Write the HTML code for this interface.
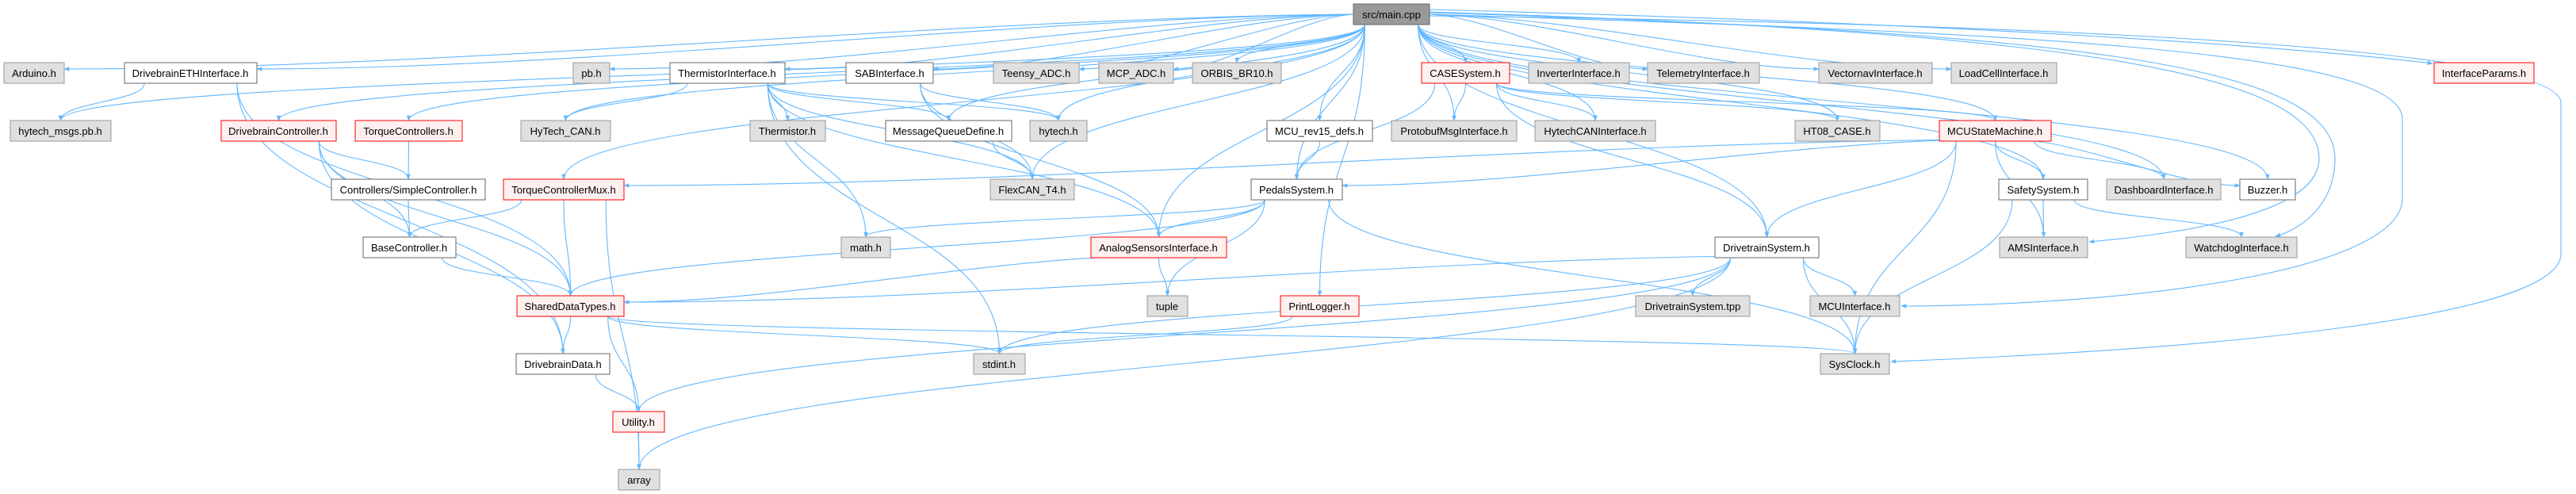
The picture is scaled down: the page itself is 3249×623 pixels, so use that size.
<!DOCTYPE html>
<html><head><meta charset="utf-8"><style>
html,body{margin:0;padding:0;background:#fff;width:3249px;height:623px;overflow:hidden}
svg{display:block}
text{font-family:"Liberation Sans",Arial,sans-serif;font-size:13px;fill:#000}
</style></head><body>
<svg id="g" width="3249" height="623" viewBox="0 0 3249 623" xmlns="http://www.w3.org/2000/svg">
<defs><marker id="a" viewBox="0 0 10 10" refX="9" refY="5" markerWidth="7" markerHeight="7" markerUnits="userSpaceOnUse" orient="auto"><path d="M0,1 L10,5 L0,9 z" fill="#63b8ff"/></marker></defs>
<g id="edges" fill="none" stroke="#63b8ff" stroke-width="1.1"></g>
<g id="nodes">
<rect x="1707" y="5" width="96" height="26" fill="#999" stroke="#666"/><text x="1755" y="23" text-anchor="middle">src/main.cpp</text>
<rect x="5" y="79" width="76" height="26" fill="#e0e0e0" stroke="#999"/><text x="43" y="97" text-anchor="middle">Arduino.h</text>
<rect x="157" y="79" width="167" height="26" fill="#fff" stroke="#666"/><text x="240" y="97" text-anchor="middle">DrivebrainETHInterface.h</text>
<rect x="723" y="79" width="46" height="26" fill="#e0e0e0" stroke="#999"/><text x="746" y="97" text-anchor="middle">pb.h</text>
<rect x="845" y="79" width="145" height="26" fill="#fff" stroke="#666"/><text x="917" y="97" text-anchor="middle">ThermistorInterface.h</text>
<rect x="1067" y="79" width="110" height="26" fill="#fff" stroke="#666"/><text x="1122" y="97" text-anchor="middle">SABInterface.h</text>
<rect x="1253" y="79" width="108" height="26" fill="#e0e0e0" stroke="#999"/><text x="1307" y="97" text-anchor="middle">Teensy_ADC.h</text>
<rect x="1386" y="79" width="94" height="26" fill="#e0e0e0" stroke="#999"/><text x="1433" y="97" text-anchor="middle">MCP_ADC.h</text>
<rect x="1504" y="79" width="112" height="26" fill="#e0e0e0" stroke="#999"/><text x="1560" y="97" text-anchor="middle">ORBIS_BR10.h</text>
<rect x="1793" y="79" width="111" height="26" fill="#fff0f0" stroke="#ff0000"/><text x="1848" y="97" text-anchor="middle">CASESystem.h</text>
<rect x="1928" y="79" width="127" height="26" fill="#e0e0e0" stroke="#999"/><text x="1991" y="97" text-anchor="middle">InverterInterface.h</text>
<rect x="2078" y="79" width="141" height="26" fill="#e0e0e0" stroke="#999"/><text x="2148" y="97" text-anchor="middle">TelemetryInterface.h</text>
<rect x="2294" y="79" width="143" height="26" fill="#e0e0e0" stroke="#999"/><text x="2365" y="97" text-anchor="middle">VectornavInterface.h</text>
<rect x="2461" y="79" width="133" height="26" fill="#e0e0e0" stroke="#999"/><text x="2527" y="97" text-anchor="middle">LoadCellInterface.h</text>
<rect x="3070" y="79" width="126" height="26" fill="#fff0f0" stroke="#ff0000"/><text x="3133" y="97" text-anchor="middle">InterfaceParams.h</text>
<rect x="13" y="152" width="127" height="26" fill="#e0e0e0" stroke="#999"/><text x="76" y="170" text-anchor="middle">hytech_msgs.pb.h</text>
<rect x="279" y="152" width="145" height="26" fill="#fff0f0" stroke="#ff0000"/><text x="351" y="170" text-anchor="middle">DrivebrainController.h</text>
<rect x="448" y="152" width="135" height="26" fill="#fff0f0" stroke="#ff0000"/><text x="515" y="170" text-anchor="middle">TorqueControllers.h</text>
<rect x="657" y="152" width="113" height="26" fill="#e0e0e0" stroke="#999"/><text x="713" y="170" text-anchor="middle">HyTech_CAN.h</text>
<rect x="946" y="152" width="95" height="26" fill="#e0e0e0" stroke="#999"/><text x="993" y="170" text-anchor="middle">Thermistor.h</text>
<rect x="1117" y="152" width="159" height="26" fill="#fff" stroke="#666"/><text x="1196" y="170" text-anchor="middle">MessageQueueDefine.h</text>
<rect x="1299" y="152" width="72" height="26" fill="#e0e0e0" stroke="#999"/><text x="1335" y="170" text-anchor="middle">hytech.h</text>
<rect x="1598" y="152" width="133" height="26" fill="#fff" stroke="#666"/><text x="1664" y="170" text-anchor="middle">MCU_rev15_defs.h</text>
<rect x="1755" y="152" width="158" height="26" fill="#e0e0e0" stroke="#999"/><text x="1834" y="170" text-anchor="middle">ProtobufMsgInterface.h</text>
<rect x="1936" y="152" width="152" height="26" fill="#e0e0e0" stroke="#999"/><text x="2012" y="170" text-anchor="middle">HytechCANInterface.h</text>
<rect x="2264" y="152" width="107" height="26" fill="#e0e0e0" stroke="#999"/><text x="2317" y="170" text-anchor="middle">HT08_CASE.h</text>
<rect x="2446" y="152" width="141" height="26" fill="#fff0f0" stroke="#ff0000"/><text x="2516" y="170" text-anchor="middle">MCUStateMachine.h</text>
<rect x="418" y="226" width="194" height="26" fill="#fff" stroke="#666"/><text x="515" y="244" text-anchor="middle">Controllers/SimpleController.h</text>
<rect x="635" y="226" width="152" height="26" fill="#fff0f0" stroke="#ff0000"/><text x="711" y="244" text-anchor="middle">TorqueControllerMux.h</text>
<rect x="1249" y="226" width="106" height="26" fill="#e0e0e0" stroke="#999"/><text x="1302" y="244" text-anchor="middle">FlexCAN_T4.h</text>
<rect x="1578" y="226" width="115" height="26" fill="#fff" stroke="#666"/><text x="1635" y="244" text-anchor="middle">PedalsSystem.h</text>
<rect x="2521" y="226" width="112" height="26" fill="#fff" stroke="#666"/><text x="2577" y="244" text-anchor="middle">SafetySystem.h</text>
<rect x="2657" y="226" width="144" height="26" fill="#e0e0e0" stroke="#999"/><text x="2729" y="244" text-anchor="middle">DashboardInterface.h</text>
<rect x="2825" y="226" width="70" height="26" fill="#fff" stroke="#666"/><text x="2860" y="244" text-anchor="middle">Buzzer.h</text>
<rect x="458" y="299" width="117" height="26" fill="#fff" stroke="#666"/><text x="516" y="317" text-anchor="middle">BaseController.h</text>
<rect x="1061" y="299" width="62" height="26" fill="#e0e0e0" stroke="#999"/><text x="1092" y="317" text-anchor="middle">math.h</text>
<rect x="1376" y="299" width="171" height="26" fill="#fff0f0" stroke="#ff0000"/><text x="1461" y="317" text-anchor="middle">AnalogSensorsInterface.h</text>
<rect x="2163" y="299" width="131" height="26" fill="#fff" stroke="#666"/><text x="2228" y="317" text-anchor="middle">DrivetrainSystem.h</text>
<rect x="2522" y="299" width="111" height="26" fill="#e0e0e0" stroke="#999"/><text x="2577" y="317" text-anchor="middle">AMSInterface.h</text>
<rect x="2757" y="299" width="140" height="26" fill="#e0e0e0" stroke="#999"/><text x="2827" y="317" text-anchor="middle">WatchdogInterface.h</text>
<rect x="652" y="373" width="135" height="26" fill="#fff0f0" stroke="#ff0000"/><text x="719" y="391" text-anchor="middle">SharedDataTypes.h</text>
<rect x="1447" y="373" width="51" height="26" fill="#e0e0e0" stroke="#999"/><text x="1472" y="391" text-anchor="middle">tuple</text>
<rect x="1615" y="373" width="99" height="26" fill="#fff0f0" stroke="#ff0000"/><text x="1664" y="391" text-anchor="middle">PrintLogger.h</text>
<rect x="2063" y="373" width="144" height="26" fill="#e0e0e0" stroke="#999"/><text x="2135" y="391" text-anchor="middle">DrivetrainSystem.tpp</text>
<rect x="2283" y="373" width="113" height="26" fill="#e0e0e0" stroke="#999"/><text x="2339" y="391" text-anchor="middle">MCUInterface.h</text>
<rect x="651" y="446" width="118" height="26" fill="#fff" stroke="#666"/><text x="710" y="464" text-anchor="middle">DrivebrainData.h</text>
<rect x="1228" y="446" width="65" height="26" fill="#e0e0e0" stroke="#999"/><text x="1260" y="464" text-anchor="middle">stdint.h</text>
<rect x="2296" y="446" width="87" height="26" fill="#e0e0e0" stroke="#999"/><text x="2339" y="464" text-anchor="middle">SysClock.h</text>
<rect x="773" y="519" width="65" height="26" fill="#fff0f0" stroke="#ff0000"/><text x="805" y="537" text-anchor="middle">Utility.h</text>
<rect x="780" y="592" width="52" height="26" fill="#e0e0e0" stroke="#999"/><text x="806" y="610" text-anchor="middle">array</text>
</g>
</svg>
<script>
var N={};
document.querySelectorAll('#nodes text').forEach(function(t){var r=t.previousElementSibling;N[t.textContent]={x:+r.getAttribute('x'),y:+r.getAttribute('y'),w:+r.getAttribute('width'),h:26};});
var OV={
'SysClock.h':'M1803,20 C2600,30 3230,60 3230,130 L3230,320 C3230,400 2800,440 2385,456',
'MCUInterface.h':'M1803,18 C2500,40 3030,60 3030,150 L3030,250 C3030,340 2700,385 2398,386',
'WatchdogInterface.h':'M1803,16 C2600,40 2945,80 2945,200 C2945,260 2900,290 2870,298',
'AMSInterface.h':'M1803,15 C2600,40 2925,90 2925,200 C2925,260 2800,290 2635,305',
'InterfaceParams.h':'M1803,12 C2500,30 2900,60 3068,80'
};
function add(d){var p=document.createElementNS('http://www.w3.org/2000/svg','path');p.setAttribute('d',d);p.setAttribute('marker-end','url(#a)');document.getElementById('edges').appendChild(p);}
function e(a,b){var s=N[a],t=N[b];if(!s||!t)return;
if(a==='src/main.cpp'&&OV[b]){add(OV[b]);return;}
var sx=s.x+s.w/2,sy=s.y+s.h,tx=t.x+t.w/2,ty=t.y,d;
if(t.y===s.y+74&&Math.abs(tx-sx)>260){
 if(tx<sx){tx=t.x+t.w;sx=Math.max(s.x+4,Math.min(s.x+s.w-4,sx-30));}else{tx=t.x;sx=Math.min(s.x+s.w-4,sx+30);} ty=t.y+8; sy=s.y+s.h-2;
 if(a==='src/main.cpp'){sy=s.y+13;sx=tx<sx?s.x:s.x+s.w;}
 d='M'+sx+','+sy+' C'+(sx+(tx-sx)*0.3)+','+(sy+4)+' '+(tx-(tx-sx)*0.3)+','+ty+' '+tx+','+ty;
}else{
 if(Math.abs(tx-sx)>s.w/2){sx=s.x+s.w/2+(tx>sx?1:-1)*s.w*0.35;}
 var dy=(ty-sy)*0.5;
 d='M'+sx+','+sy+' C'+sx+','+(sy+dy)+' '+tx+','+(ty-dy)+' '+tx+','+ty;}
add(d);}
var M='src/main.cpp';
['Arduino.h','DrivebrainETHInterface.h','hytech_msgs.pb.h','DrivebrainController.h','TorqueControllers.h','TorqueControllerMux.h','pb.h','HyTech_CAN.h','ThermistorInterface.h','SABInterface.h','Teensy_ADC.h','MCP_ADC.h','ORBIS_BR10.h','hytech.h','MessageQueueDefine.h','FlexCAN_T4.h','MCU_rev15_defs.h','ProtobufMsgInterface.h','HytechCANInterface.h','CASESystem.h','InverterInterface.h','TelemetryInterface.h','VectornavInterface.h','LoadCellInterface.h','HT08_CASE.h','MCUStateMachine.h','DrivetrainSystem.h','SafetySystem.h','DashboardInterface.h','Buzzer.h','AMSInterface.h','WatchdogInterface.h','MCUInterface.h','SysClock.h','PrintLogger.h','InterfaceParams.h','AnalogSensorsInterface.h','PedalsSystem.h'].forEach(function(t){e(M,t);});
[['DrivebrainETHInterface.h','hytech_msgs.pb.h'],['DrivebrainETHInterface.h','SharedDataTypes.h'],['DrivebrainETHInterface.h','DrivebrainData.h'],
['DrivebrainController.h','Controllers/SimpleController.h'],['DrivebrainController.h','BaseController.h'],['DrivebrainController.h','SharedDataTypes.h'],['DrivebrainController.h','DrivebrainData.h'],
['TorqueControllers.h','Controllers/SimpleController.h'],['Controllers/SimpleController.h','BaseController.h'],
['TorqueControllerMux.h','BaseController.h'],['TorqueControllerMux.h','SharedDataTypes.h'],['TorqueControllerMux.h','array'],
['BaseController.h','SharedDataTypes.h'],['SharedDataTypes.h','DrivebrainData.h'],['SharedDataTypes.h','Utility.h'],['SharedDataTypes.h','stdint.h'],['SharedDataTypes.h','SysClock.h'],
['DrivebrainData.h','Utility.h'],['Utility.h','array'],
['ThermistorInterface.h','Thermistor.h'],['ThermistorInterface.h','MessageQueueDefine.h'],['ThermistorInterface.h','hytech.h'],['ThermistorInterface.h','HyTech_CAN.h'],['ThermistorInterface.h','FlexCAN_T4.h'],['ThermistorInterface.h','math.h'],['ThermistorInterface.h','AnalogSensorsInterface.h'],['ThermistorInterface.h','stdint.h'],
['SABInterface.h','hytech.h'],['SABInterface.h','FlexCAN_T4.h'],['SABInterface.h','AnalogSensorsInterface.h'],['MessageQueueDefine.h','FlexCAN_T4.h'],
['MCU_rev15_defs.h','PedalsSystem.h'],['PedalsSystem.h','math.h'],['PedalsSystem.h','AnalogSensorsInterface.h'],['PedalsSystem.h','SharedDataTypes.h'],['PedalsSystem.h','tuple'],['PedalsSystem.h','SysClock.h'],
['AnalogSensorsInterface.h','SharedDataTypes.h'],['AnalogSensorsInterface.h','tuple'],
['CASESystem.h','ProtobufMsgInterface.h'],['CASESystem.h','HytechCANInterface.h'],['CASESystem.h','HT08_CASE.h'],['CASESystem.h','DrivetrainSystem.h'],['CASESystem.h','PedalsSystem.h'],['CASESystem.h','MCUStateMachine.h'],
['MCUStateMachine.h','TorqueControllerMux.h'],['MCUStateMachine.h','PedalsSystem.h'],['MCUStateMachine.h','DrivetrainSystem.h'],['MCUStateMachine.h','SafetySystem.h'],['MCUStateMachine.h','DashboardInterface.h'],['MCUStateMachine.h','Buzzer.h'],['MCUStateMachine.h','AMSInterface.h'],['MCUStateMachine.h','SysClock.h'],
['SafetySystem.h','AMSInterface.h'],['SafetySystem.h','WatchdogInterface.h'],['SafetySystem.h','SysClock.h'],
['DrivetrainSystem.h','SharedDataTypes.h'],['DrivetrainSystem.h','DrivetrainSystem.tpp'],['DrivetrainSystem.h','MCUInterface.h'],['DrivetrainSystem.h','SysClock.h'],['DrivetrainSystem.h','stdint.h'],['DrivetrainSystem.h','Utility.h'],['DrivetrainSystem.h','array'],
['PrintLogger.h','stdint.h']].forEach(function(p){e(p[0],p[1]);});
</script>
</body></html>
